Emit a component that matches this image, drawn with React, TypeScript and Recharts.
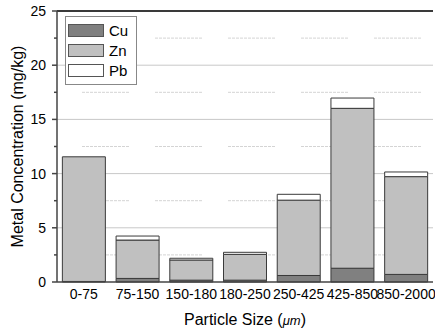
import { BarChart, Bar, XAxis, YAxis, CartesianGrid, ReferenceLine } from 'recharts';

const categories = ['0-75', '75-150', '150-180', '180-250', '250-425', '425-850', '850-2000'];
const cuValues = [0.05, 0.33, 0.17, 0.17, 0.6, 1.27, 0.7];
const znValues = [11.5, 3.54, 1.86, 2.38, 6.95, 14.75, 9.02];
const pbValues = [0, 0.37, 0.16, 0.19, 0.54, 0.95, 0.43];
const yTicks = [0, 2.5, 5, 7.5, 10, 12.5, 15, 17.5, 20, 22.5, 25];
const majorGrid = [5, 10, 15, 20];
const minorGrid = [2.5, 7.5, 12.5, 17.5, 22.5];
const yMax = 25;

const series = [
  { key: 'Cu', fill: '#808080' },
  { key: 'Zn', fill: '#c0c0c0' },
  { key: 'Pb', fill: '#ffffff' },
];

const data = categories.map((c, i) => ({
  name: c,
  Cu: cuValues[i],
  Zn: znValues[i],
  Pb: pbValues[i],
}));

const FONT = 'Arial, "Liberation Sans", sans-serif';
const AXIS = '#444';
const Y_AXIS_W = 57;

// fine dashes grouped in long segments, like the original plot
const minorDash = Array.from({ length: 12 }, (_, i) => (i < 11 ? '3 1' : '3 26')).join(' ');

function YTick(props: any) {
  const { y, payload } = props;
  const v = payload.value;
  const major = v % 5 === 0;
  return (
    <g>
      <line x1={Y_AXIS_W - (major ? 5 : 3)} x2={Y_AXIS_W} y1={y} y2={y} stroke={AXIS} strokeWidth={1.5} />
      {major && (
        <text x={46} y={y} dy="0.36em" textAnchor="end" fontSize={14} fontFamily={FONT} fill="#000">
          {v}
        </text>
      )}
    </g>
  );
}

// legend is laid over the plot, so it takes no room from the chart
function LegendBox() {
  return (
    <div
      style={{
        position: 'absolute',
        left: 65,
        top: 16,
        border: '1px solid #888',
        background: '#fff',
        width: 68,
        padding: '7px 0 0 2px',
        fontFamily: FONT,
        fontSize: 15,
        lineHeight: '13px',
      }}
    >
      {series.map(s => (
        <div key={s.key} style={{ display: 'flex', alignItems: 'center', height: 13, marginBottom: 7 }}>
          <span
            style={{
              display: 'inline-block',
              width: 34,
              height: 11,
              background: s.fill,
              border: '1px solid #555',
              marginRight: 5,
            }}
          />
          <span>{s.key}</span>
        </div>
      ))}
    </div>
  );
}

export default function App() {
  return (
    <div style={{ position: 'absolute', left: 0, top: 0, width: 435, height: 334, background: '#fff' }}>
      <BarChart
        width={435}
        height={334}
        data={data}
        margin={{ top: 11, right: 2, left: 0, bottom: 0 }}
        barCategoryGap="10%"
      >
        <CartesianGrid vertical={false} horizontalValues={majorGrid} stroke="#c8c8c8" />
        <CartesianGrid
          vertical={false}
          horizontalValues={minorGrid}
          stroke="#d4d4d4"
          strokeDasharray={minorDash}
          strokeDashoffset={48}
        />
        <XAxis
          dataKey="name"
          height={52}
          interval={0}
          tickLine={false}
          tickSize={5}
          tickMargin={2}
          axisLine={{ stroke: AXIS, strokeWidth: 1.5 }}
          tick={{ fontSize: 14, fontFamily: FONT, fill: '#000' }}
          label={{
            content: (p: any) => {
              const vb = p.viewBox;
              return (
                <text
                  x={vb.x + vb.width / 2}
                  y={vb.y + vb.height - 9}
                  textAnchor="middle"
                  fontSize={16}
                  fontFamily={FONT}
                  fill="#000"
                >
                  Particle Size (<tspan fontStyle="italic" fontSize={13}>μm</tspan>)
                </text>
              );
            },
          }}
        />
        <YAxis
          width={Y_AXIS_W}
          domain={[0, yMax]}
          ticks={yTicks}
          interval={0}
          tickLine={false}
          tick={<YTick />}
          axisLine={{ stroke: AXIS, strokeWidth: 1.5 }}
          label={{
            content: (p: any) => {
              const vb = p.viewBox;
              const cy = vb.y + vb.height / 2;
              return (
                <text
                  x={17}
                  y={cy}
                  transform={`rotate(-90, 17, ${cy})`}
                  textAnchor="middle"
                  dominantBaseline="central"
                  fontSize={16}
                  fontFamily={FONT}
                  fill="#000"
                >
                  Metal Concentration (mg/kg)
                </text>
              );
            },
          }}
        />
        <YAxis
          yAxisId="right"
          orientation="right"
          width={0}
          domain={[0, yMax]}
          tick={false}
          tickLine={false}
          axisLine={{ stroke: AXIS, strokeWidth: 1.5 }}
        />
        {series.map(s => (
          <Bar
            key={s.key}
            dataKey={s.key}
            stackId="a"
            fill={s.fill}
            stroke="#3a3a3a"
            strokeWidth={1}
            isAnimationActive={false}
          />
        ))}
        <ReferenceLine y={yMax} stroke="#3a3a3a" strokeWidth={2} ifOverflow="visible" />
      </BarChart>
      <LegendBox />
    </div>
  );
}
